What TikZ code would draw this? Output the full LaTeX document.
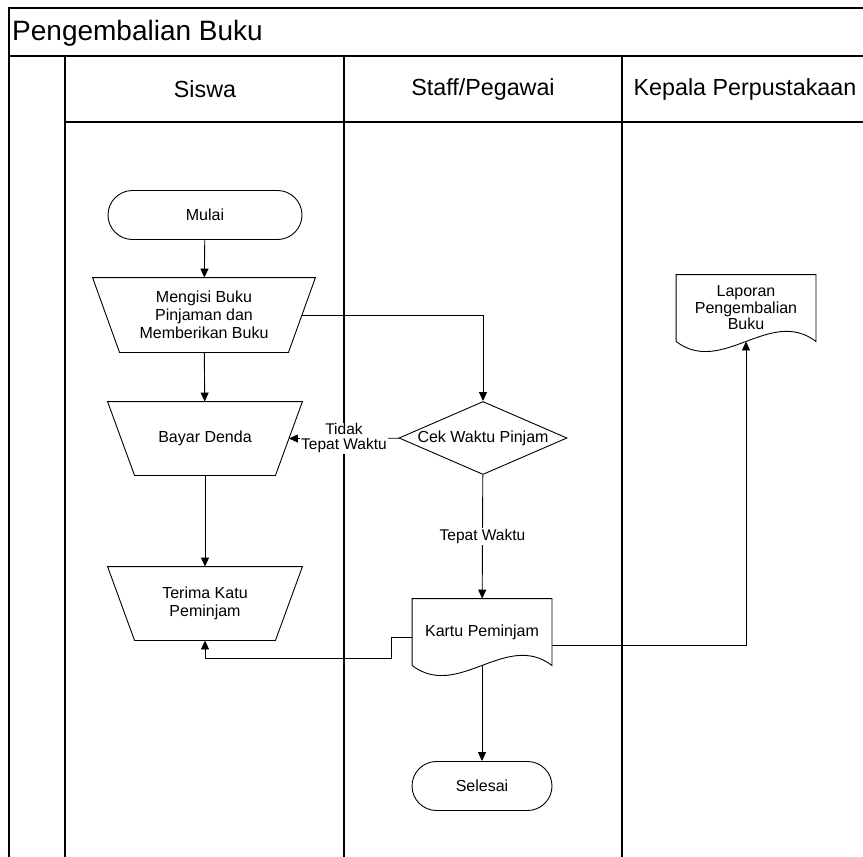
\documentclass[tikz,border=0pt]{standalone}
\usepackage{fontspec}
\setmainfont{Liberation Sans}
\usetikzlibrary{arrows.meta,shapes.geometric}

\begin{document}
\begin{tikzpicture}[x=1pt,y=-1pt,
	terminal/.style={rectangle,rounded corners=24.5pt,minimum height=49pt},
	manual/.style={rectangle,draw=none,minimum height=73pt},
	decision/.style={diamond,aspect=2.3,minimum width=168pt,minimum height=73pt},
	doc/.style={rectangle,draw=none,minimum width=139pt,minimum height=66pt}]
	\useasboundingbox (0,0) rectangle (863,857);

	% swimlanes
	\begin{scope}[line width=1.4pt]
		\draw (9,857) -- (9,8) -- (863,8);
		\draw (9,56) -- (863,56);
		\draw (65,122) -- (863,122);
		\foreach \x in {65,344,622}
			\draw (\x,56) -- (\x,857);
	\end{scope}
	\node[anchor=west,inner sep=0pt,font=\fontsize{28}{30}\selectfont] (judul) at (12,33) {Pengembalian Buku};
	\begin{scope}[every node/.style={font=\fontsize{23.3}{26}\selectfont}]
		\node (siswa) at (205,89) {Siswa};
		\node (staff) at (483,89) {Staff/Pegawai};
		\node (kepala) at (745,89) {Kepala Perpustakaan};
	\end{scope}

	% flowchart
	\begin{scope}[every node/.style={draw,fill=white,line width=0.9pt,inner sep=0pt,align=center,
			font=\fontsize{16}{18}\selectfont}]
		\node[terminal,minimum width=194pt] (Mulai) at (205,215) {Mulai};
		\node[manual,minimum width=222pt,minimum height=74pt] (Isi) at (204,315) {Mengisi Buku\\Pinjaman dan\\Memberikan Buku};
		\node[manual,minimum width=194pt] (Bayar) at (205,438.5) {Bayar Denda};
		\node[manual,minimum width=194pt] (Terima) at (205,603.5) {Terima Katu\\Peminjam};
		\node[decision] (Cek) at (483,438) {Cek Waktu Pinjam};
		\node[doc] (Kartu) at (482,632) {Kartu Peminjam};
		\node[doc,font=\fontsize{16}{16.5}\selectfont] (Lapor) at (746,308) {Laporan\\Pengembalian\\Buku};
		\node[terminal,minimum width=140pt] (Selesai) at (482,786) {Selesai};
	\end{scope}

	% manual operation outlines and document outlines
	\begin{scope}[line width=0.9pt]
		\foreach \n in {Isi,Bayar,Terima}
			\draw (\n.north west) -- (\n.north east) -- ([xshift=-27pt]\n.south east)
				-- ([xshift=27pt]\n.south west) -- cycle;
		\foreach \n in {Kartu,Lapor}
			\draw (\n.south west) -- (\n.north west) -- (\n.north east) -- (\n.south east)
				.. controls +(-46,-35) and +(46,35) .. (\n.south west);
	\end{scope}

	% connectors
	\begin{scope}[>={Triangle[length=9pt,width=8pt]},line width=0.9pt,
			every node/.style={fill=white,inner sep=1pt,align=center,font=\fontsize{15.5}{15}\selectfont}]
		\path [->] (Mulai) edge (Isi);
		\path [->] (Isi) edge (Bayar);
		\path [->] (Bayar) edge (Terima);
		\draw [->] ([xshift=-13.5pt]Isi.east) -| (Cek);
		\path [->] (Cek) edge node {Tidak\\Tepat Waktu} ([xshift=-13.5pt]Bayar.east);
		\path [->] (Cek) edge node {Tepat Waktu} (Kartu);
		\path [->] (Kartu) edge (Selesai);
		\draw [->] ([yshift=-5pt]Kartu.west) -- ++(-21,0) |- ([yshift=-18pt]Terima.south) -- (Terima.south);
		\draw [->] ([yshift=-13pt]Kartu.east) -| (Lapor.south);
	\end{scope}
\end{tikzpicture}
\end{document}
